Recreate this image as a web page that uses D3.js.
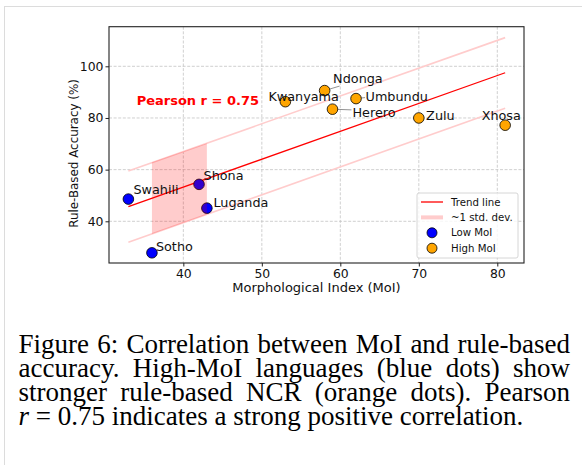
<!DOCTYPE html>
<html>
<head>
<meta charset="utf-8">
<script src="https://cdn.jsdelivr.net/npm/d3@7"></script>
<style>
  body { margin: 0; background: #fff; }
  svg { display: block; }
</style>
</head>
<body>
<div id="chart"></div>
<script>
// data
var languages = ["Swahili", "Sotho", "Shona", "Luganda", "Kwanyama", "Ndonga", "Herero", "Umbundu", "Zulu", "Xhosa"];
var moi      = [33, 36, 42, 43, 53, 58, 59, 62, 70, 81];
var accuracy = [48.6, 27.8, 54.3, 45.1, 86.3, 90.6, 83.4, 87.5, 80.0, 77.2];
var groups   = ["Low", "Low", "Low", "Low", "High", "High", "High", "High", "High", "High"];

var trendX = [33, 81];
var trendY = [45.7, 97.5];
var upperY = [59.5, 111.1];
var lowerY = [31.9, 83.8];

var bandX = [36, 43];
var bandTop = [62.9, 70.2];
var bandBottom = [35.1, 42.6];

var xTicks = [40, 50, 60, 70, 80];
var yTicks = [40, 60, 80, 100];
var pearsonR = 0.75;

var captionLines = [
  ["Figure", "6:", "Correlation", "between", "MoI", "and", "rule-based"],
  ["accuracy.", "High-MoI", "languages", "(blue", "dots)", "show"],
  ["stronger", "rule-based", "NCR", "(orange", "dots).", "Pearson"]
];
var captionLast = " = 0.75 indicates a strong positive correlation.";

// label placement (pixels from the point): dx to text start, dy to text middle
var labelPos = {
  Swahili:  {dx: 5,   dy: -10},
  Sotho:    {dx: 4,   dy: -6},
  Shona:    {dx: 4.5, dy: -8.5},
  Luganda:  {dx: 6.5, dy: -5.5},
  Kwanyama: {dx: -17, dy: -5},
  Ndonga:   {dx: 8.5, dy: -12.5, lx: 15, ly: -4.5},
  Herero:   {dx: 20,  dy: 3.3,   lx: 19, ly: 0.7},
  Umbundu:  {dx: 9.5, dy: -2.7,  lx: 9, ly: -1},
  Zulu:     {dx: 7.3, dy: -3},
  Xhosa:    {dx: -23.5, dy: -9.5}
};

var W = 582, H = 465;
var pLeft = 109, pRight = 524, pTop = 26.7, pBottom = 263;
var colors = {Low: "#0000ff", High: "#ffa500"};

var svg = d3.select("#chart").append("svg")
  .attr("width", W).attr("height", H);

// page frame
svg.append("line").attr("x1", 4).attr("x2", W).attr("y1", 6.5).attr("y2", 6.5)
  .attr("stroke", "#dcdcdc").attr("stroke-width", 1);
svg.append("line").attr("x1", 4.5).attr("x2", 4.5).attr("y1", 6).attr("y2", H)
  .attr("stroke", "#dcdcdc").attr("stroke-width", 1);

var x = d3.scaleLinear().domain([30.53, 83.4]).range([pLeft, pRight]);
var y = d3.scaleLinear().domain([23.86, 115.33]).range([pBottom, pTop]);

var tickFont = "DejaVu Sans, sans-serif";

// grid
svg.append("g").selectAll("line").data(xTicks).enter().append("line")
  .attr("x1", d => x(d)).attr("x2", d => x(d))
  .attr("y1", pTop).attr("y2", pBottom)
  .attr("stroke", "#c4c4c4").attr("stroke-width", 0.8).attr("stroke-dasharray", "3,1.6");
svg.append("g").selectAll("line").data(yTicks).enter().append("line")
  .attr("x1", pLeft).attr("x2", pRight)
  .attr("y1", d => y(d)).attr("y2", d => y(d))
  .attr("stroke", "#c4c4c4").attr("stroke-width", 0.8).attr("stroke-dasharray", "3,1.6");

// std dev lines + trend
var line = d3.line().x(d => x(d[0])).y(d => y(d[1]));
svg.append("path").datum(trendX.map((v, i) => [v, upperY[i]]))
  .attr("d", line).attr("fill", "none").attr("stroke", "#ffcccc").attr("stroke-width", 1.6);
svg.append("path").datum(trendX.map((v, i) => [v, lowerY[i]]))
  .attr("d", line).attr("fill", "none").attr("stroke", "#ffcccc").attr("stroke-width", 1.6);
svg.append("path").datum(trendX.map((v, i) => [v, trendY[i]]))
  .attr("d", line).attr("fill", "none").attr("stroke", "#ff0000").attr("stroke-width", 1.3);

// leader lines
languages.forEach(function(name, i) {
  var p = labelPos[name];
  if (p.lx === undefined) return;
  svg.append("line")
    .attr("x1", x(moi[i])).attr("y1", y(accuracy[i]))
    .attr("x2", x(moi[i]) + p.lx).attr("y2", y(accuracy[i]) + p.ly)
    .attr("stroke", "#777").attr("stroke-width", 0.8);
});

// points
svg.append("g").selectAll("circle").data(languages).enter().append("circle")
  .attr("cx", (d, i) => x(moi[i]))
  .attr("cy", (d, i) => y(accuracy[i]))
  .attr("r", 5.3)
  .attr("fill", (d, i) => colors[groups[i]])
  .attr("stroke", "#000").attr("stroke-width", 0.8);

// shaded band (drawn over the points)
var area = d3.area().x(d => x(d[0])).y0(d => y(d[2])).y1(d => y(d[1]));
svg.append("path").datum(bandX.map((v, i) => [v, bandTop[i], bandBottom[i]]))
  .attr("d", area).attr("fill", "#ff0000").attr("fill-opacity", 0.2);

// labels
svg.append("g").selectAll("text").data(languages).enter().append("text")
  .attr("x", (d, i) => x(moi[i]) + labelPos[d].dx)
  .attr("y", (d, i) => y(accuracy[i]) + labelPos[d].dy)
  .attr("dy", "0.36em")
  .attr("font-family", tickFont).attr("font-size", 12.8).attr("fill", "#111")
  .text(d => d);

// pearson annotation
svg.append("text")
  .attr("x", x(34.05)).attr("y", y(87)).attr("dy", "0.36em")
  .attr("font-family", tickFont).attr("font-size", 13).attr("font-weight", "bold")
  .attr("fill", "#ff0000")
  .text("Pearson r = " + pearsonR.toFixed(2));

// axes
var xAxis = svg.append("g").attr("transform", "translate(0," + pBottom + ")")
  .call(d3.axisBottom(x).tickValues(xTicks).tickSize(3.5).tickPadding(2.5));
var yAxis = svg.append("g").attr("transform", "translate(" + pLeft + ",0)")
  .call(d3.axisLeft(y).tickValues(yTicks).tickSize(3.5).tickPadding(2));
[xAxis, yAxis].forEach(function(a) {
  a.select(".domain").remove();
  a.selectAll("line").attr("stroke", "#222");
  a.selectAll("text").attr("font-family", tickFont).attr("font-size", 12.4).attr("fill", "#111");
});
svg.append("rect").attr("x", pLeft).attr("y", pTop)
  .attr("width", pRight - pLeft).attr("height", pBottom - pTop)
  .attr("fill", "none").attr("stroke", "#222").attr("stroke-width", 1.1);

svg.append("text")
  .attr("x", (pLeft + pRight) / 2).attr("y", 292)
  .attr("text-anchor", "middle")
  .attr("font-family", tickFont).attr("font-size", 13).attr("fill", "#111")
  .text("Morphological Index (MoI)");
svg.append("text")
  .attr("transform", "translate(73.5,153.5) rotate(-90)")
  .attr("text-anchor", "middle").attr("dy", "0.36em")
  .attr("font-family", tickFont).attr("font-size", 11.9).attr("fill", "#111")
  .text("Rule-Based Accuracy (%)");

// legend
var lg = svg.append("g").attr("transform", "translate(417,193)");
lg.append("rect").attr("width", 101).attr("height", 65).attr("rx", 2)
  .attr("fill", "#fff").attr("fill-opacity", 0.8).attr("stroke", "#cccccc").attr("stroke-width", 0.8);
var legendItems = [
  {label: "Trend line", kind: "line", color: "#ff0000", width: 1.3},
  {label: "~1 std. dev.", kind: "line", color: "#ffcccc", width: 4},
  {label: "Low MoI", kind: "dot", color: colors.Low},
  {label: "High MoI", kind: "dot", color: colors.High}
];
legendItems.forEach(function(it, i) {
  var yy = 9 + i * 15.4;
  if (it.kind === "line") {
    lg.append("line").attr("x1", 4).attr("x2", 26).attr("y1", yy).attr("y2", yy)
      .attr("stroke", it.color).attr("stroke-width", it.width);
  } else {
    lg.append("circle").attr("cx", 15).attr("cy", yy).attr("r", 5)
      .attr("fill", it.color).attr("stroke", "#000").attr("stroke-width", 0.8);
  }
  lg.append("text").attr("x", 34).attr("y", yy).attr("dy", "0.36em")
    .attr("font-family", tickFont).attr("font-size", 10.2).attr("fill", "#111")
    .text(it.label);
});

// caption, justified line by line
var capFont = "Liberation Serif, Times New Roman, serif";
var capSize = 27, capLeft = 18.5, capRight = 570, capBase = 352.5, capStep = 24.2;
captionLines.forEach(function(words, li) {
  var g = svg.append("g");
  var nodes = words.map(function(w) {
    return g.append("text").attr("y", capBase + li * capStep)
      .attr("font-family", capFont).attr("font-size", capSize).attr("fill", "#000")
      .text(w);
  });
  var widths = nodes.map(n => n.node().getComputedTextLength());
  var gap = (capRight - capLeft - d3.sum(widths)) / (words.length - 1);
  var cx = capLeft;
  nodes.forEach(function(n, i) { n.attr("x", cx); cx += widths[i] + gap; });
});
var last = svg.append("text").attr("x", capLeft).attr("y", capBase + 3 * capStep)
  .attr("font-family", capFont).attr("font-size", capSize).attr("fill", "#000");
last.append("tspan").attr("font-style", "italic").text("r");
last.append("tspan").text(captionLast);
</script>
</body>
</html>
